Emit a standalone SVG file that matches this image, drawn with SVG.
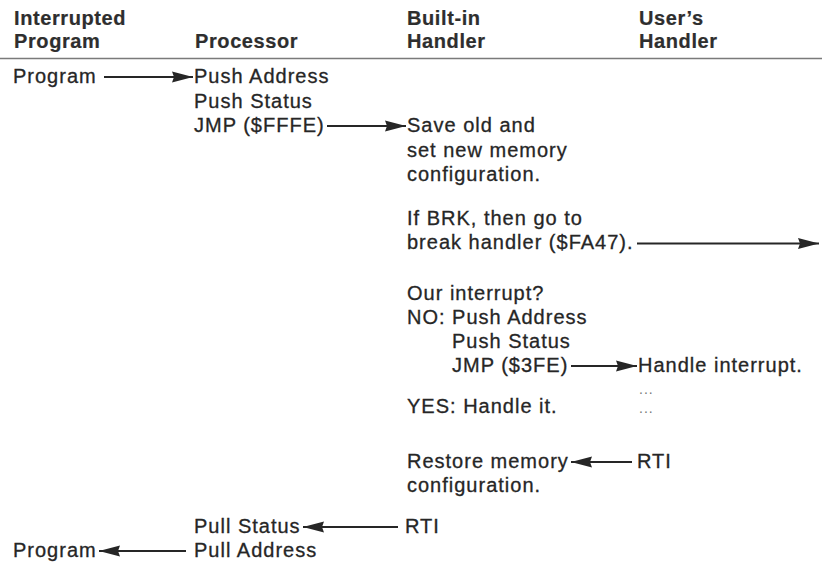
<svg xmlns="http://www.w3.org/2000/svg" width="822" height="569" viewBox="0 0 822 569">
<style>
text{font-family:"Liberation Sans",Arial,sans-serif;font-size:20px;fill:#262626;stroke:#262626;stroke-width:0.3px;letter-spacing:1px}
.h{font-weight:bold;letter-spacing:0.6px;fill:#2e2e2e;stroke:#2e2e2e;stroke-width:0.2px}
.d{font-size:14px;letter-spacing:1px;fill:#777;stroke:none}
.c{stroke:#262626;stroke-width:1.8;fill:none;marker-end:url(#ah)}
</style>
<defs>
<marker id="ah" markerUnits="userSpaceOnUse" markerWidth="24" markerHeight="14" refX="21" refY="6" orient="auto" overflow="visible">
<path d="M0,0.5 L21,6 L0,11.5 L2,6 z" fill="#262626"/>
</marker>
</defs>
<rect width="822" height="569" fill="#fff"/>
<g id="headers">
<text class="h" x="14" y="25">Interrupted</text>
<text class="h" x="14" y="48">Program</text>
<text class="h" x="195" y="48">Processor</text>
<text class="h" x="407" y="25">Built-in</text>
<text class="h" x="407" y="48">Handler</text>
<text class="h" x="639" y="25">User’s</text>
<text class="h" x="639" y="48">Handler</text>
<line x1="0" y1="58.5" x2="822" y2="58.5" stroke="#7a7a7a" stroke-width="1.6"/>
</g>
<g id="interrupted-program">
<text x="13" y="83">Program</text>
<text x="13" y="557">Program</text>
</g>
<g id="processor">
<text x="194" y="83">Push Address</text>
<text x="194" y="107.5">Push Status</text>
<text x="194" y="132">JMP ($FFFE)</text>
<text x="194" y="533">Pull Status</text>
<text x="194" y="557">Pull Address</text>
</g>
<g id="built-in-handler">
<text x="407" y="132">Save old and</text>
<text x="407" y="156.5">set new memory</text>
<text x="407" y="181">configuration.</text>
<text x="407" y="225">If BRK, then go to</text>
<text x="407" y="249">break handler ($FA47).</text>
<text x="407" y="300">Our interrupt?</text>
<text x="407" y="324">NO: Push Address</text>
<text x="452" y="348">Push Status</text>
<text x="452" y="372">JMP ($3FE)</text>
<text x="407" y="413">YES: Handle it.</text>
<text x="407" y="468">Restore memory</text>
<text x="407" y="492">configuration.</text>
<text x="405" y="533">RTI</text>
</g>
<g id="users-handler">
<text x="638" y="372">Handle interrupt.</text>
<text class="d" x="639" y="394">...</text>
<text class="d" x="639" y="413">...</text>
<text x="637" y="468">RTI</text>
</g>
<g id="connectors">
<line class="c" x1="104" y1="77" x2="193" y2="77"/>
<line class="c" x1="327" y1="126" x2="406" y2="126"/>
<line class="c" x1="637" y1="243.5" x2="819" y2="243.5"/>
<line class="c" x1="571" y1="366" x2="637" y2="366"/>
<line class="c" x1="632" y1="462" x2="571" y2="462"/>
<line class="c" x1="398" y1="527" x2="303" y2="527"/>
<line class="c" x1="186" y1="551" x2="99" y2="551"/>
</g>
</svg>
